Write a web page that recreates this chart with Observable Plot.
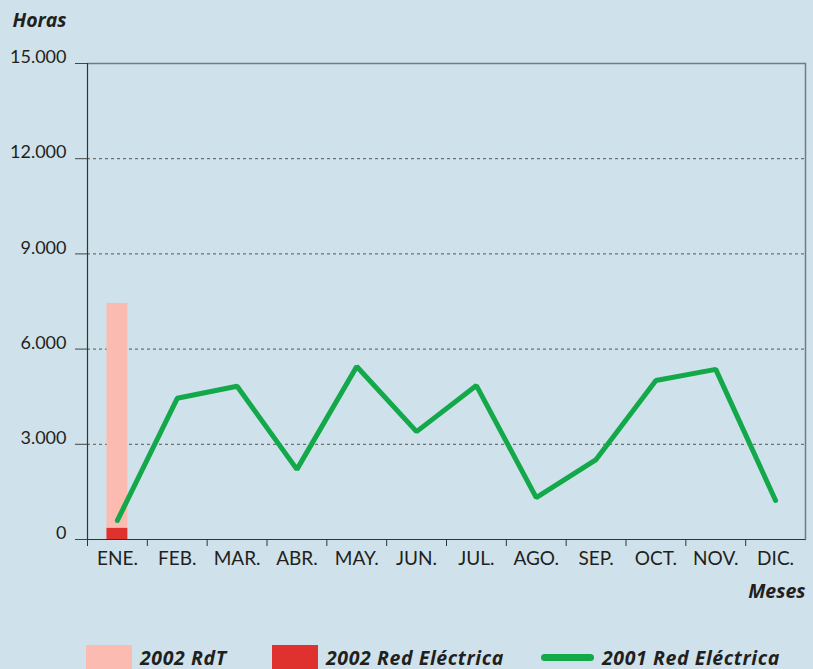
<!DOCTYPE html>
<html><head><meta charset="utf-8">
<script src="https://cdn.jsdelivr.net/npm/d3@7"></script>
<script src="https://cdn.jsdelivr.net/npm/@observablehq/plot@0.6"></script>
<style>
body{margin:0;background:#cfe2eb;font-family:Lato,sans-serif;}
#wrap{position:relative;width:813px;height:669px;overflow:hidden;background:#cfe2eb;}
#chart svg{display:block;}
.legend{position:absolute;top:645px;left:0;width:813px;height:24px;}
.item{position:absolute;top:0;display:flex;align-items:center;height:24px;font:italic bold 19.5px "Open Sans",sans-serif;letter-spacing:0.6px;color:#231f20;white-space:nowrap;}
.sw{width:46px;height:24px;margin-right:8px;}
.ln{width:53px;height:7px;border-radius:4px;margin-right:8px;}
</style></head><body>
<div id="wrap"><div id="chart"></div>
<div class="legend">
  <div class="item" style="left:86px"><div class="sw" style="background:#fbbbb1"></div>2002 RdT</div>
  <div class="item" style="left:272px"><div class="sw" style="background:#df312d"></div>2002 Red Eléctrica</div>
  <div class="item" style="left:541px"><div class="ln" style="background:#13a84a"></div>2001 Red Eléctrica</div>
</div></div>
<script>
const months = ["ENE.","FEB.","MAR.","ABR.","MAY.","JUN.","JUL.","AGO.","SEP.","OCT.","NOV.","DIC."];
const redElectrica2001 = [600, 4450, 4830, 2210, 5450, 3400, 4850, 1320, 2520, 5010, 5360, 1230];
const barMonths = ["ENE."];
const rdt2002 = [7440];
const redElectrica2002 = [350];
const yTicks = [0, 3000, 6000, 9000, 12000, 15000];
const gridTicks = [3000, 6000, 9000, 12000];

const lineData = months.map((m, i) => ({m, v: redElectrica2001[i]}));
const rdtData = barMonths.map((m, i) => ({m, v: rdt2002[i]}));
const reData = barMonths.map((m, i) => ({m, v: redElectrica2002[i]}));

const W = 813, H = 630, ML = 87, MR = 8, MT = 63, MB = 91;
const bw = (W - ML - MR) / months.length;
const fmt = d => d3.format(",")(d).replace(/,/g, ".");
const ink = "#231f20";

const chart = Plot.plot({
  width: W, height: H,
  marginLeft: ML, marginRight: MR, marginTop: MT, marginBottom: MB,
  style: {background: "transparent", fontFamily: "Lato, sans-serif", color: ink},
  x: {type: "band", domain: months, padding: 0, round: false, axis: null, label: null},
  y: {domain: [0, 15000], axis: null, label: null},
  marks: [
    Plot.ruleY(gridTicks, {stroke: "#555", strokeDasharray: "3,3", strokeWidth: 1}),
    Plot.barY(rdtData, {x: "m", y: "v", fill: "#fbbbb1", insetLeft: 19.5, insetRight: 19.5}),
    Plot.barY(reData, {x: "m", y: "v", fill: "#df312d", insetLeft: 19.5, insetRight: 19.5}),
    Plot.ruleY([15000], {stroke: "#737a80", strokeWidth: 1.5}),
    Plot.frame({anchor: "right", stroke: "#737a80", strokeWidth: 1.5}),
    Plot.frame({anchor: "left", stroke: "#333", strokeWidth: 1.2}),
    Plot.ruleY([0], {stroke: "#333", strokeWidth: 1.2}),
    Plot.axisY(yTicks, {tickSize: 12, tickFormat: () => "", stroke: "#444", label: null}),
    Plot.axisY(yTicks, {tickSize: 0, tickPadding: 21, tickFormat: fmt, dy: -6, fontSize: 18, fill: ink, label: null}),
    Plot.axisX(months, {tickSize: 7, tickFormat: () => "", dx: -bw / 2, stroke: "#333", label: null}),
    Plot.axisX(months, {tickSize: 0, tickPadding: 12, fontSize: 19, fill: ink, label: null}),
    Plot.line(lineData, {x: "m", y: "v", stroke: "#13a84a", strokeWidth: 5, strokeLinecap: "round", strokeLinejoin: "miter"}),
    Plot.text(["Horas"], {frameAnchor: "top-left", textAnchor: "start", lineAnchor: "bottom", dx: -75, dy: -37, fontSize: 19.5, fontWeight: "bold", fontStyle: "italic", fontFamily: "Open Sans", fill: ink}),
    Plot.text(["Meses"], {frameAnchor: "bottom-right", textAnchor: "end", lineAnchor: "bottom", dx: 0, dy: 58, fontSize: 19.5, fontWeight: "bold", fontStyle: "italic", fontFamily: "Open Sans", fill: ink})
  ]
});
document.getElementById("chart").appendChild(chart);
</script>
</body></html>
